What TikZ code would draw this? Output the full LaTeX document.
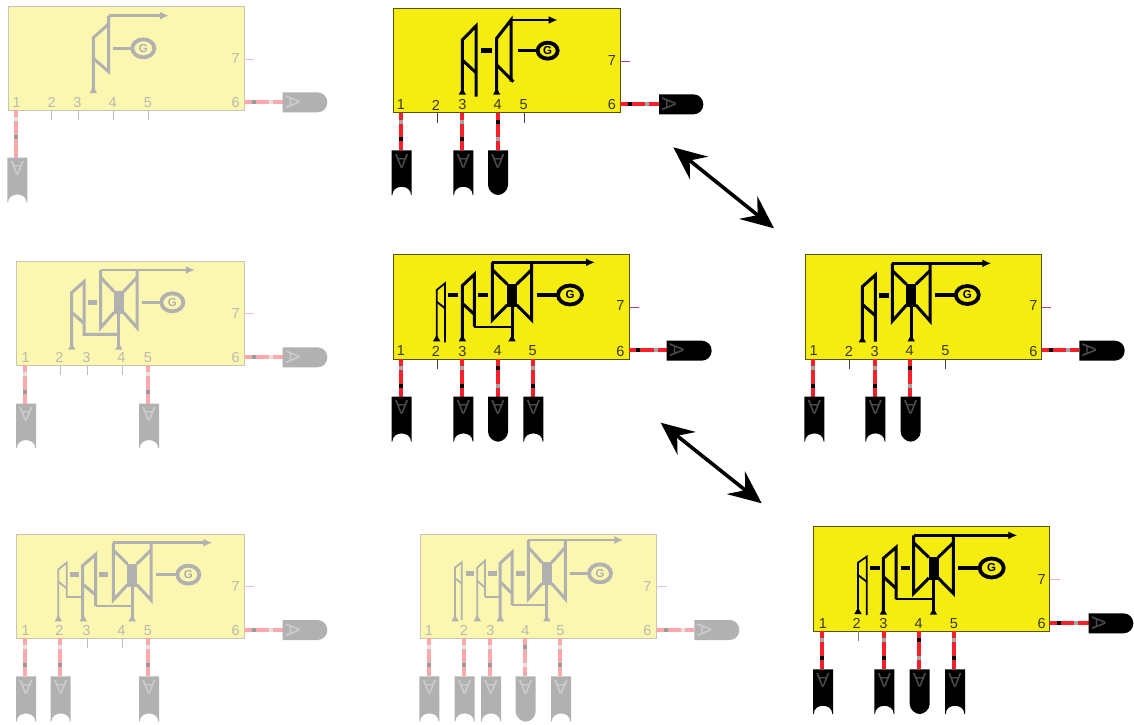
\documentclass[tikz,border=0pt]{standalone}
\usepackage{fontspec}
\setmainfont{Liberation Sans}
\usetikzlibrary{arrows.meta,shapes.geometric}
\definecolor{sYellow}{HTML}{F5EC12}
\definecolor{fYellow}{HTML}{FBF6B0}
\newcommand\solidpal{%
  \colorlet{panelc}{sYellow}\colorlet{edgec}{black!65!sYellow}\colorlet{inkc}{black}%
  \definecolor{wirec}{HTML}{F7202A}\colorlet{barA}{black!35}\colorlet{barB}{black}%
  \definecolor{txtc}{HTML}{3A3A10}\definecolor{glyphc}{HTML}{4C4C4C}%
  \definecolor{stubc}{HTML}{404040}\definecolor{stubsev}{HTML}{A8409A}}
\newcommand\fadedpal{%
  \colorlet{panelc}{fYellow}\definecolor{edgec}{HTML}{C6C6B6}\definecolor{inkc}{HTML}{B1B1B1}%
  \definecolor{wirec}{HTML}{FFA8AC}\definecolor{barA}{HTML}{E2E2E2}\definecolor{barB}{HTML}{9A9A9A}%
  \definecolor{txtc}{HTML}{BABAB0}\definecolor{glyphc}{HTML}{CDCDCD}%
  \definecolor{stubc}{HTML}{BDBDBD}\definecolor{stubsev}{HTML}{EDBFDD}}
\tikzset{
  zoomgrid/.style={x=0.33333pt,y=-0.33333pt},
  boxst/.style={draw=edgec,fill=panelc,line width=0.9pt,inner sep=0pt,outer sep=0pt,anchor=north west},
  lab/.style={text=txtc,font=\fontsize{14.5}{15}\selectfont,inner sep=0pt},
  wirest/.style={draw=wirec,line width=4pt},
  stubst/.style={draw=stubc,line width=0.8pt},
  sevst/.style={draw=stubsev,line width=0.8pt},
  sym/.style={draw=inkc,line width=3pt,line join=miter,line cap=butt},
  thinsym/.style={draw=inkc,line width=1.8pt,line join=miter},
  bleed/.style={draw=inkc,line width=2.1pt,line join=miter},
  couple/.style={draw=inkc,line width=4.4pt},
  steam/.style={draw=inkc,line width=2.8pt,-{Latex[length=9pt,width=8pt]}},
  genst/.style={ellipse,draw=inkc,line width=3.8pt,inner sep=0pt,outer sep=0pt,text=inkc,font=\bfseries\fontsize{11.5}{11.5}\selectfont},
  glyph/.style={text=glyphc,font=\fontsize{20}{20}\selectfont,inner sep=0pt},
  bigarrow/.style={draw=black,line width=3.6pt,{Stealth[length=33pt,width=29pt,inset=12pt]}-{Stealth[length=33pt,width=29pt,inset=12pt]}}
}
\newcommand\mkbox[5]{\node[boxst,minimum width={(#4-#2)*0.33333pt},minimum height={(#5-#3)*0.33333pt}] (#1) at (#2,#3) {};}
\newcommand\mkcaret[2]{\fill[inkc] (#1,#2-15)--(#1+11,#2+4)--(#1-11,#2+4)--cycle;}
\newcommand\vbar[3]{\fill[#3] (#1-6,#2-6) rectangle (#1+6,#2+6);}
\newcommand\mkstub[2]{\coordinate (#1a) at (#2,\by);\coordinate (#1b) at (#2,\by+30);\draw[stubst] (#1a)--(#1b);}
\newcommand\downN[3]{%
  \coordinate (#1p) at (#2,\by);\coordinate (#1t) at (#2,\ct);
  \draw[wirest] (#1p)--(#1t);
  \vbar{#2}{\by+27}{barA}\vbar{#2}{\by+80}{barB}
  \fill[inkc] (#3-30,\ct)--(#3+30,\ct)--(#3+30,\cb)--(#3+28,\cb) .. controls (#3+28,\cb-33) and (#3-28,\cb-33) .. (#3-28,\cb)--(#3-30,\cb)--cycle;
  \node[glyph,rotate=180] (#1) at (#3,\ct+32) {A};}
\newcommand\downR[3]{%
  \coordinate (#1p) at (#2,\by);\coordinate (#1t) at (#2,\ct);
  \draw[wirest] (#1p)--(#1t);
  \vbar{#2}{\by+27}{barB}\vbar{#2}{\by+80}{barA}
  \fill[inkc] (#3-30,\ct)--(#3+30,\ct)--(#3+30,\cb-30) .. controls (#3+30,\cb-13) and (#3+13,\cb) .. (#3,\cb) .. controls (#3-13,\cb) and (#3-30,\cb-13) .. (#3-30,\cb-30)--cycle;
  \node[glyph,rotate=180] (#1) at (#3,\ct+32) {A};}
\newcommand\rightC[7]{%
  \coordinate (#1p) at (#2,#3);\coordinate (#1t) at (#4,#3);
  \draw[wirest] (#1p)--(#1t);
  \fill[barB] (#2+22,#3-6) rectangle (#2+34,#3+6);
  \fill[barA] (#2+74,#3-6) rectangle (#2+86,#3+6);
  \fill[inkc] (#4,#6)--(#5-30,#6) .. controls (#5-13,#6) and (#5,#6+13) .. (#5,#6+30) .. controls (#5,#7-13) and (#5-13,#7) .. (#5-30,#7)--(#4,#7)--cycle;
  \node[glyph,rotate=-90] (#1) at (#4+30,#3) {A};}
\newcommand\seven[4]{\coordinate (#1a) at (#2,#4);\coordinate (#1b) at (#3,#4);\draw[sevst] (#1a)--(#1b);}
\newcommand\mkgen[6]{\node[genst,minimum width=#5pt,minimum height=#6pt] (#1) at (#3,#4) {G};\draw[couple,line width=3.2pt] (#2,#4)--(#1);}
\newcommand\mkdbl[7]{%
  \pgfmathsetmacro\cxm{(#1+#2)/2}
  \draw[steam] (#1,#3)--(#6,#3);
  \draw[sym] (#1,#3)--(#1,#4)--(\cxm-14,#5+30);
  \draw[sym] (#2,#3)--(#2,#4)--(\cxm+14,#5+30);
  \draw[sym] (#1,#3+22)--(\cxm-14,#5-32);
  \draw[sym] (#2,#3+22)--(\cxm+14,#5-32);
  \fill[inkc] (\cxm-15,#5-33) rectangle (\cxm+15,#5+36);
  \draw[sym] (\cxm,#5)--(\cxm,#7);
  \mkcaret{\cxm}{#7}}
\begin{document}
\begin{tikzpicture}[x=1pt,y=-1pt]
\useasboundingbox (0,0) rectangle (1134,724);
\fill[white] (0,0) rectangle (1134,724);

% ---------- top left (faded)
\begin{scope}[shift={(0,0)},zoomgrid]
\fadedpal
\def\by{331}\def\ct{473}\def\cb{608}
\mkbox{F}{26}{18}{734}{331}
\draw[steam] (326,47)--(507,47);
\draw[sym] (280,275)--(280,113)--(326,72);
\draw[sym] (326,47)--(326,215)--(280,175);
\mkcaret{280}{275}
\mkgen{Fg}{338}{430}{145}{22}{18}
\node[lab] (Fl1) at (50,307) {1};\node[lab] (Fl2) at (155,307) {2};\node[lab] (Fl3) at (232,307) {3};\node[lab] (Fl4) at (338,307) {4};\node[lab] (Fl5) at (444,307) {5};\node[lab] (Fl6) at (707,307) {6};\node[lab] (Fl7) at (707,177) {7};
\downN{Fa}{48}{52}
\mkstub{Fb}{155}\mkstub{Fc}{235}\mkstub{Fd}{341}\mkstub{Fe}{444}
\rightC{Ff}{734}{306}{848}{982}{277}{337}
\seven{Fs}{734}{762}{178}
\end{scope}

% ---------- middle left (faded)
\begin{scope}[shift={(0,255)},zoomgrid]
\fadedpal
\def\by{331}\def\ct{446}\def\cb{580}
\mkbox{G}{50}{18}{734}{331}
\draw[sym] (215,280)--(215,113)--(252,80)--(252,238)--(355,238);
\draw[sym] (215,172)--(252,205);
\mkcaret{215}{280}
\draw[couple] (265,142)--(290,142);
\mkdbl{302}{411}{45}{218}{142}{585}{280}
\mkgen{Gg}{425}{517}{142}{22}{18}
\node[lab] (Gl1) at (77,307) {1};\node[lab] (Gl2) at (178,307) {2};\node[lab] (Gl3) at (259,307) {3};\node[lab] (Gl4) at (364,307) {4};\node[lab] (Gl5) at (444,307) {5};\node[lab] (Gl6) at (707,307) {6};\node[lab] (Gl7) at (707,175) {7};
\downN{Ga}{75}{78}
\mkstub{Gb}{181}\mkstub{Gc}{262}\mkstub{Gd}{367}
\downN{Ge}{443}{447}
\rightC{Gf}{734}{306}{848}{982}{277}{337}
\seven{Gs}{734}{762}{175}
\end{scope}

% ---------- bottom left (faded)
\begin{scope}[shift={(0,525)},zoomgrid]
\fadedpal
\def\by{340}\def\ct{454}\def\cb{590}
\mkbox{H}{50}{27}{734}{340}
\draw[thinsym] (175,285)--(175,133)--(200,113)--(200,217);
\draw[thinsym] (175,170)--(200,190);
\draw[bleed] (200,217)--(248,217);
\mkcaret{175}{285}
\draw[couple] (210,149)--(238,149);
\draw[sym] (248,285)--(248,122)--(287,88)--(287,243);
\draw[sym] (248,177)--(287,210);
\draw[bleed] (287,243)--(395,243);
\mkcaret{250}{285}
\draw[couple] (298,149)--(325,149);
\mkdbl{340}{453}{53}{225}{149}{637}{285}
\mkgen{Hg}{467}{565}{149}{22}{18}
\node[lab] (Hl1) at (77,316) {1};\node[lab] (Hl2) at (178,316) {2};\node[lab] (Hl3) at (259,316) {3};\node[lab] (Hl4) at (364,316) {4};\node[lab] (Hl5) at (444,316) {5};\node[lab] (Hl6) at (707,316) {6};\node[lab] (Hl7) at (707,183) {7};
\downN{Ha}{75}{78}\downN{Hb}{181}{182}
\mkstub{Hc}{262}\mkstub{Hd}{367}
\downN{He}{443}{447}
\rightC{Hf}{734}{314}{848}{982}{285}{345}
\seven{Hs}{734}{762}{183}
\end{scope}

% ---------- bottom centre (faded)
\begin{scope}[shift={(415,525)},zoomgrid]
\fadedpal
\def\by{340}\def\ct{454}\def\cb{590}
\mkbox{E}{16}{27}{724}{340}
\draw[thinsym] (120,285)--(120,128)--(140,112)--(140,285);
\draw[thinsym] (120,160)--(140,175);
\mkcaret{120}{285}
\draw[couple] (152,145)--(178,145);
\draw[thinsym] (187,285)--(187,128)--(210,107)--(210,215);
\draw[thinsym] (187,168)--(210,188);
\draw[bleed] (210,215)--(255,215);
\mkcaret{187}{285}
\draw[couple] (220,145)--(245,145);
\draw[sym] (255,285)--(255,115)--(291,82)--(291,240);
\draw[sym] (255,170)--(291,205);
\draw[bleed] (291,240)--(395,240);
\mkcaret{256}{285}
\draw[couple] (303,145)--(330,145);
\mkdbl{340}{451}{45}{222}{145}{625}{285}
\mkgen{Eg}{465}{555}{145}{22}{18}
\node[lab] (El1) at (42,316) {1};\node[lab] (El2) at (147,316) {2};\node[lab] (El3) at (226,316) {3};\node[lab] (El4) at (331,316) {4};\node[lab] (El5) at (436,316) {5};\node[lab] (El6) at (697,316) {6};\node[lab] (El7) at (697,183) {7};
\downN{Ea}{42}{43}\downN{Eb}{147}{149}\downN{Ec}{224}{228}
\downR{Ed}{330}{332}
\downN{Ee}{436}{438}
\rightC{Ef}{724}{314}{838}{973}{285}{345}
\seven{Es}{724}{755}{183}
\end{scope}

% ---------- top centre
\begin{scope}[shift={(385,0)},zoomgrid]
\solidpal
\def\by{338}\def\ct{451}\def\cb{585}
\mkbox{A}{24}{25}{706}{338}
\draw[sym] (232,280)--(232,120)--(273,78)--(273,290);
\draw[sym] (232,180)--(273,218);
\mkcaret{232}{280}
\draw[couple] (288,152)--(322,152);
\draw[steam] (378,60)--(518,60);
\draw[sym] (335,280)--(335,115)--(378,60)--(378,245);
\draw[sym] (335,195)--(385,245);
\mkcaret{335}{280}
\mkgen{Ag}{400}{488}{152}{20}{16}
\node[lab] (Al1) at (48,315) {1};\node[lab] (Al2) at (153,315) {2};\node[lab] (Al3) at (232,315) {3};\node[lab] (Al4) at (338,315) {4};\node[lab] (Al5) at (416,315) {5};\node[lab] (Al6) at (681,315) {6};\node[lab] (Al7) at (681,183) {7};
\downN{Aa}{48}{50}
\mkstub{Ab}{156}
\downN{Ac}{232}{235}
\downR{Ad}{338}{339}
\mkstub{Ae}{419}
\rightC{Af}{706}{312}{822}{955}{283}{343}
\seven{As}{706}{736}{184}
\end{scope}

% ---------- middle centre
\begin{scope}[shift={(385,245)},zoomgrid]
\solidpal
\def\by{342}\def\ct{455}\def\cb{590}
\mkbox{B}{24}{28}{732}{342}
\draw[thinsym] (155,285)--(155,135)--(180,115)--(180,292);
\draw[thinsym] (155,170)--(180,190);
\mkcaret{155}{285}
\draw[couple] (190,150)--(218,150);
\draw[sym] (232,285)--(232,122)--(268,88)--(268,245);
\draw[sym] (232,175)--(268,208);
\draw[bleed] (268,245)--(380,245);
\mkcaret{232}{285}
\draw[couple] (280,150)--(308,150);
\mkdbl{322}{440}{52}{225}{150}{630}{285}
\mkgen{Bg}{455}{555}{150}{24}{19}
\node[lab] (Bl1) at (48,318) {1};\node[lab] (Bl2) at (153,318) {2};\node[lab] (Bl3) at (232,318) {3};\node[lab] (Bl4) at (338,318) {4};\node[lab] (Bl5) at (443,318) {5};\node[lab] (Bl6) at (706,318) {6};\node[lab] (Bl7) at (706,183) {7};
\downN{Ba}{48}{50}
\mkstub{Bb}{156}
\downN{Bc}{232}{235}
\downR{Bd}{338}{339}
\downN{Be}{444}{445}
\rightC{Bf}{732}{316}{845}{980}{287}{347}
\seven{Bs}{732}{762}{187}
\end{scope}

% ---------- middle right
\begin{scope}[shift={(798,245)},zoomgrid]
\solidpal
\def\by{342}\def\ct{455}\def\cb{590}
\mkbox{C}{23}{28}{731}{342}
\draw[sym] (193,288)--(193,125)--(232,90)--(232,290);
\draw[sym] (193,178)--(232,212);
\mkcaret{193}{288}
\draw[couple] (243,152)--(272,152);
\mkdbl{283}{396}{55}{228}{150}{580}{285}
\mkgen{Cg}{410}{508}{150}{23}{18}
\node[lab] (Cl1) at (47,318) {1};\node[lab] (Cl2) at (153,318) {2};\node[lab] (Cl3) at (230,318) {3};\node[lab] (Cl4) at (335,318) {4};\node[lab] (Cl5) at (442,318) {5};\node[lab] (Cl6) at (706,318) {6};\node[lab] (Cl7) at (706,183) {7};
\downN{Ca}{45}{49}
\mkstub{Cb}{153}
\downN{Cc}{232}{232}
\downR{Cd}{337}{338}
\mkstub{Ce}{442}
\rightC{Cf}{731}{316}{844}{980}{287}{347}
\seven{Cs}{731}{758}{187}
\end{scope}

% ---------- bottom right
\begin{scope}[shift={(805,520)},zoomgrid]
\solidpal
\definecolor{stubsev}{HTML}{E8B0D8}\definecolor{stubc}{HTML}{808080}
\def\by{334}\def\ct{448}\def\cb{582}
\mkbox{D}{26}{20}{734}{334}
\draw[thinsym] (159,278)--(159,128)--(185,110)--(185,285);
\draw[thinsym] (159,165)--(185,185);
\mkcaret{159}{278}
\draw[couple] (196,144)--(224,144);
\draw[sym] (235,280)--(235,115)--(273,82)--(273,238);
\draw[sym] (235,170)--(273,205);
\draw[bleed] (273,238)--(385,238);
\mkcaret{235}{280}
\draw[couple] (287,144)--(315,144);
\mkdbl{326}{445}{46}{220}{144}{637}{280}
\mkgen{Dg}{460}{560}{144}{24}{19}
\node[lab] (Dl1) at (54,311) {1};\node[lab] (Dl2) at (155,311) {2};\node[lab] (Dl3) at (235,311) {3};\node[lab] (Dl4) at (341,311) {4};\node[lab] (Dl5) at (447,311) {5};\node[lab] (Dl6) at (710,311) {6};\node[lab] (Dl7) at (710,177) {7};
\downN{Da}{52}{54}
\mkstub{Db}{159}
\downN{Dc}{237}{238}
\downR{Dd}{343}{344}
\downN{De}{447}{450}
\rightC{Df}{734}{309}{851}{985}{280}{340}
\seven{Ds}{735}{765}{177}
\end{scope}

% ---------- double arrows
\coordinate (ar1a) at (673.3,147.3);
\coordinate (ar1b) at (774,228.3);
\coordinate (ar2a) at (660.7,422.7);
\coordinate (ar2b) at (761.7,503.3);
\draw[bigarrow] (ar1a)--(ar1b);
\draw[bigarrow] (ar2a)--(ar2b);
\end{tikzpicture}
\end{document}
